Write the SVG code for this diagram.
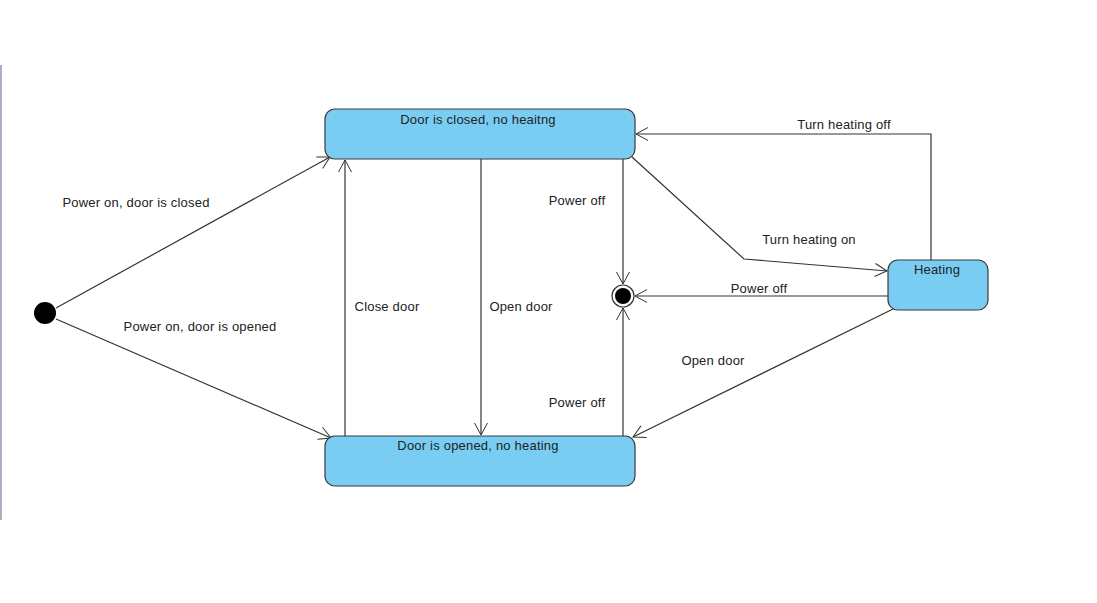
<svg xmlns="http://www.w3.org/2000/svg" width="1097" height="603" viewBox="0 0 1097 603">
<defs>
<marker id="open" markerWidth="16" markerHeight="16" refX="13" refY="8" orient="auto" markerUnits="userSpaceOnUse">
<path d="M1,1.5 L13,8 L1,14.5" fill="none" stroke="#333" stroke-width="1"/>
</marker>
<style>
.state{fill:#79CDF3;stroke:#3a3a3a;stroke-width:1.2}
.lbl{font-family:"Liberation Sans",Arial,sans-serif;font-size:13px;letter-spacing:0.2px;fill:#222}
.edge{fill:none;stroke:#333;stroke-width:1.2;marker-end:url(#open)}
</style>
</defs>
<rect width="1097" height="603" fill="#fff"/>
<line x1="1" y1="65" x2="1" y2="520" stroke="#9095b0" stroke-width="1.5"/>
<g id="connectors">
<path class="edge" d="M56,308 L330,157"/>
<path class="edge" d="M56,319 L331,438"/>
<path class="edge" d="M345,436 L345,160"/>
<path class="edge" d="M481,159 L481,435"/>
<path class="edge" d="M623,159 L623,284"/>
<path class="edge" d="M623,436 L623,308"/>
<path class="edge" d="M888,296 L635,296"/>
<path class="edge" d="M632,157 L744,259 L887,271"/>
<path class="edge" d="M931,260 L931,134 L636,134"/>
<path class="edge" d="M893,309 L633,437"/>
<text class="lbl" x="136" y="207" text-anchor="middle">Power on, door is closed</text>
<text class="lbl" x="200" y="331" text-anchor="middle">Power on, door is opened</text>
<text class="lbl" x="387" y="311" text-anchor="middle">Close door</text>
<text class="lbl" x="521" y="311" text-anchor="middle">Open door</text>
<text class="lbl" x="577" y="205" text-anchor="middle">Power off</text>
<text class="lbl" x="577" y="407" text-anchor="middle">Power off</text>
<text class="lbl" x="844" y="129" text-anchor="middle">Turn heating off</text>
<text class="lbl" x="809" y="244" text-anchor="middle">Turn heating on</text>
<text class="lbl" x="759" y="293" text-anchor="middle">Power off</text>
<text class="lbl" x="713" y="365" text-anchor="middle">Open door</text>
</g>
<g id="initial">
<circle cx="45" cy="313" r="11" fill="#000"/>
</g>
<g id="final">
<circle cx="623" cy="296" r="11" fill="#fff" stroke="#333" stroke-width="1.2"/>
<circle cx="623" cy="296" r="8" fill="#000"/>
</g>
<g id="doorClosed">
<rect class="state" x="325" y="109" width="310" height="50" rx="10"/>
<text class="lbl" x="478" y="124" text-anchor="middle">Door is closed, no heaitng</text>
</g>
<g id="doorOpened">
<rect class="state" x="325" y="436" width="310" height="50" rx="10"/>
<text class="lbl" x="478" y="450" text-anchor="middle">Door is opened, no heating</text>
</g>
<g id="heating">
<rect class="state" x="888" y="260" width="100" height="50" rx="10"/>
<text class="lbl" x="937" y="274" text-anchor="middle">Heating</text>
</g>
</svg>
